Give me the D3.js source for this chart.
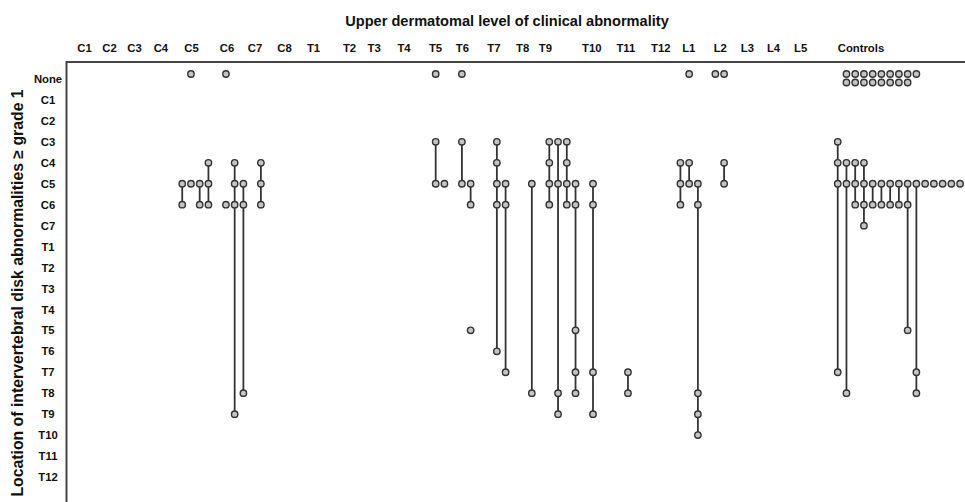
<!DOCTYPE html>
<html>
<head>
<meta charset="utf-8">
<script src="https://cdn.jsdelivr.net/npm/d3@7"></script>
<style>
  body { margin: 0; background: #fff; }
  text { font-family: "Liberation Sans", Arial, sans-serif; fill: #111; }
  .tick text { font-size: 11.3px; font-weight: bold; }
  .frame { stroke: #444; stroke-width: 2; }
  .link { stroke: #333; stroke-width: 1.8; }
  .dot { fill: #c4c4c4; stroke: #333; stroke-width: 1.4; }
</style>
</head>
<body>
<svg width="965" height="502"></svg>
<script>
document.addEventListener("DOMContentLoaded", function() {

// rows: level of disk abnormality
const levels = ["None", "C1", "C2", "C3", "C4", "C5", "C6", "C7",
  "T1", "T2", "T3", "T4", "T5", "T6", "T7", "T8", "T9", "T10", "T11", "T12"];

// columns: upper dermatomal level (position in patient-slot units)
const columns = ["C1", "C2", "C3", "C4", "C5", "C6", "C7", "C8", "T1", "T2", "T3", "T4",
  "T5", "T6", "T7", "T8", "T9", "T10", "T11", "T12", "L1", "L2", "L3", "L4", "L5", "Controls"];
const columnAt = [1.76, 4.62, 7.48, 10.5, 14, 18.07, 21.27, 24.65, 27.96, 32.08, 34.9, 38.32,
  41.92, 45, 48.6, 51.9, 54.5, 59.8, 63.7, 67.7, 70.9, 74.5, 77.6, 80.6, 83.7, 90.6];

// one entry per subject: slot along x, levels with abnormality
const patients = [
  {col: "C5", slot: 13, lv: ["C5", "C6"]},
  {col: "C5", slot: 14, lv: ["None"]},
  {col: "C5", slot: 14, lv: ["C5"]},
  {col: "C5", slot: 15, lv: ["C5", "C6"]},
  {col: "C5", slot: 16, lv: ["C4", "C5", "C6"]},
  {col: "C6", slot: 18, lv: ["None"]},
  {col: "C6", slot: 18, lv: ["C6"]},
  {col: "C6", slot: 19, lv: ["C4", "C5", "C6", "T9"]},
  {col: "C6", slot: 20, lv: ["C5", "C6", "T8"]},
  {col: "C7", slot: 22, lv: ["C4", "C5", "C6"]},
  {col: "T5", slot: 42, lv: ["None"]},
  {col: "T5", slot: 42, lv: ["C3", "C5"]},
  {col: "T5", slot: 43, lv: ["C5"]},
  {col: "T6", slot: 45, lv: ["None"]},
  {col: "T6", slot: 45, lv: ["C3", "C5"]},
  {col: "T6", slot: 46, lv: ["C5", "C6"]},
  {col: "T6", slot: 46, lv: ["T5"]},
  {col: "T7", slot: 49, lv: ["C3", "C4", "C5", "C6", "T6"]},
  {col: "T7", slot: 50, lv: ["C5", "C6", "T7"]},
  {col: "T8", slot: 53, lv: ["C5", "T8"]},
  {col: "T9", slot: 55, lv: ["C3", "C4", "C5", "C6"]},
  {col: "T9", slot: 56, lv: ["C3", "C5", "T8", "T9"]},
  {col: "T9", slot: 57, lv: ["C3", "C4", "C5", "C6"]},
  {col: "T9", slot: 58, lv: ["C5", "C6", "T5", "T7", "T8"]},
  {col: "T10", slot: 60, lv: ["C5", "C6", "T7", "T9"]},
  {col: "T11", slot: 64, lv: ["T7", "T8"]},
  {col: "L1", slot: 70, lv: ["C4", "C5", "C6"]},
  {col: "L1", slot: 71, lv: ["None"]},
  {col: "L1", slot: 71, lv: ["C4", "C5"]},
  {col: "L1", slot: 72, lv: ["C5", "C6", "T8", "T9", "T10"]},
  {col: "L2", slot: 74, lv: ["None"]},
  {col: "L2", slot: 75, lv: ["None"]},
  {col: "L2", slot: 75, lv: ["C4", "C5"]}
];

const controls = [
  {slot: 88, lv: ["C3", "C4", "C5", "T7"]},
  {slot: 89, lv: ["C4", "C5", "T8"]},
  {slot: 90, lv: ["C4", "C5", "C6"]},
  {slot: 91, lv: ["C4", "C5", "C6", "C7"]},
  {slot: 92, lv: ["C5", "C6"]},
  {slot: 93, lv: ["C5", "C6"]},
  {slot: 94, lv: ["C5", "C6"]},
  {slot: 95, lv: ["C5", "C6"]},
  {slot: 96, lv: ["C5", "C6", "T5"]},
  {slot: 97, lv: ["C5", "T7", "T8"]},
  {slot: 98, lv: ["C5"]},
  {slot: 99, lv: ["C5"]},
  {slot: 100, lv: ["C5"]},
  {slot: 101, lv: ["C5"]},
  {slot: 102, lv: ["C5"]}
];

// controls with no abnormality, stacked in two rows
const controlsNoneRow1 = [89, 90, 91, 92, 93, 94, 95, 96, 97];
const controlsNoneRow2 = [89, 90, 91, 92, 93, 94, 95, 96];

const svg = d3.select("svg");

const x = d3.scaleLinear().domain([0, 103]).range([68.6, 68.6 + 8.74 * 103]);
const y = d3.scalePoint().domain(levels).range([79, 477]);

// titles
svg.append("text")
  .attr("x", 507).attr("y", 26)
  .attr("text-anchor", "middle")
  .style("font-size", "14.6px").style("font-weight", "bold")
  .text("Upper dermatomal level of clinical abnormality");

svg.append("text")
  .attr("transform", "translate(22.5,293) rotate(-90)")
  .attr("text-anchor", "middle")
  .style("font-size", "15.8px").style("font-weight", "bold")
  .text("Location of intervertebral disk abnormalities \u2265 grade 1");

// axes (labels only)
const xAxis = svg.append("g")
  .attr("transform", "translate(0,52)")
  .call(d3.axisTop(x).tickValues(columnAt).tickFormat((d, i) => columns[i]).tickSize(0).tickPadding(0));
xAxis.select(".domain").remove();

const yAxis = svg.append("g")
  .attr("transform", "translate(48,0)")
  .call(d3.axisLeft(y).tickSize(0).tickPadding(0));
yAxis.select(".domain").remove();
yAxis.selectAll("text").attr("x", 0).attr("text-anchor", "middle");

// frame: top and left only
svg.append("line").attr("class", "frame")
  .attr("x1", 66).attr("x2", 965).attr("y1", 62).attr("y2", 62);
svg.append("line").attr("class", "frame")
  .attr("x1", 66.5).attr("x2", 66.5).attr("y1", 61).attr("y2", 502);

const subjects = patients.concat(controls);

function yPos(l, stack) {
  return l === "None" ? y(l) - 5 + (stack || 0) * 8.5 : y(l);
}

svg.selectAll(".link")
  .data(subjects.filter(d => d.lv.length > 1))
  .enter().append("line")
  .attr("class", "link")
  .attr("x1", d => x(d.slot)).attr("x2", d => x(d.slot))
  .attr("y1", d => yPos(d.lv[0]))
  .attr("y2", d => yPos(d.lv[d.lv.length - 1]));

const dots = [];
subjects.forEach(d => d.lv.forEach(l => dots.push({slot: d.slot, lv: l, stack: 0})));
controlsNoneRow1.forEach(s => dots.push({slot: s, lv: "None", stack: 0}));
controlsNoneRow2.forEach(s => dots.push({slot: s, lv: "None", stack: 1}));

svg.selectAll(".dot")
  .data(dots)
  .enter().append("circle")
  .attr("class", "dot")
  .attr("r", 3.2)
  .attr("cx", d => x(d.slot))
  .attr("cy", d => yPos(d.lv, d.stack));

});
</script>
</body>
</html>
